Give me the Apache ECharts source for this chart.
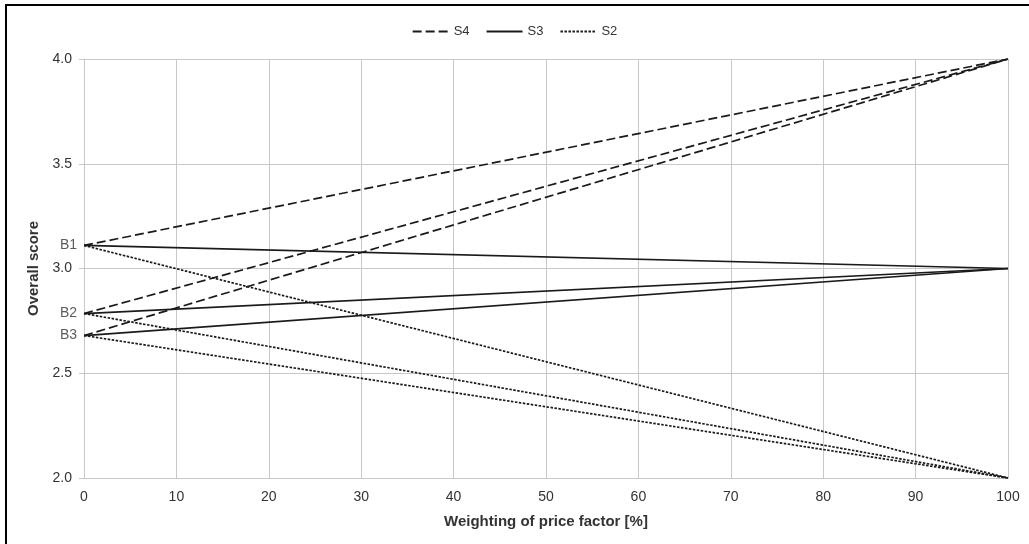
<!DOCTYPE html>
<html>
<head>
<meta charset="utf-8">
<script src="https://cdn.jsdelivr.net/npm/echarts@6/dist/echarts.min.js"></script>
<style>
html,body{margin:0;padding:0;background:#fff;}
#chart{width:1029px;height:544px;}
</style>
</head>
<body>
<div id="chart"></div>
<script>
// Data
const bidders = ['B1', 'B2', 'B3'];
const bidderScoresAtZero = [3.11, 2.785, 2.68];
const scenarios = ['S4', 'S3', 'S2'];
const scenarioScoresAtFull = [4.0, 3.0, 2.0];
const weightRange = [0, 100];
const xTicks = [0, 10, 20, 30, 40, 50, 60, 70, 80, 90, 100];
const yTicks = [2.0, 2.5, 3.0, 3.5, 4.0];

const lineTypes = {
  S4: [9, 4],
  S3: 'solid',
  S2: [2.5, 1.5]
};

const FONT = 'Liberation Sans, Arial, sans-serif';
const chart = echarts.init(document.getElementById('chart'));
const series = [];
scenarios.forEach((s, si) => {
  bidders.forEach((b, bi) => {
    series.push({
      name: s,
      type: 'line',
      symbol: 'none',
      silent: true,
      z: 3,
      lineStyle: { color: '#1a1a1a', width: 1.7, type: lineTypes[s] },
      itemStyle: { color: '#1a1a1a' },
      data: [
        [weightRange[0], bidderScoresAtZero[bi]],
        [weightRange[1], scenarioScoresAtFull[si]]
      ]
    });
  });
});
series.push({
  name: 'Bidders',
  type: 'scatter',
  symbol: 'circle',
  symbolSize: 2,
  clip: false,
  itemStyle: { color: 'rgba(0,0,0,0)' },
  silent: true,
  z: 4,
  label: {
    show: true, position: 'left', distance: 6,
    formatter: p => bidders[p.dataIndex],
    color: '#333', fontSize: 14, fontFamily: FONT
  },
  labelLayout: { hideOverlap: false },
  data: bidders.map((b, i) => [weightRange[0], bidderScoresAtZero[i]])
});

const option = {
  animation: false,
  backgroundColor: '#fff',
  textStyle: { fontFamily: FONT },
  grid: { left: 84, right: 21, top: 59, bottom: 66 },
  legend: {
    data: scenarios,
    top: 20,
    left: 'center',
    itemWidth: 36,
    itemHeight: 12,
    itemGap: 16,
    itemStyle: { opacity: 0 },
    textStyle: { color: '#333', fontSize: 13, fontFamily: FONT }
  },
  xAxis: {
    type: 'value',
    min: weightRange[0],
    max: weightRange[1],
    interval: 10,
    name: 'Weighting of price factor [%]',
    nameLocation: 'middle',
    nameGap: 36,
    nameTextStyle: { fontWeight: 'bold', fontSize: 15, color: '#333', fontFamily: FONT },
    axisLine: { lineStyle: { color: '#c8c8c8' } },
    axisTick: { show: false },
    axisLabel: { color: '#333', fontSize: 14, margin: 12, fontFamily: FONT,
      formatter: v => xTicks.includes(v) ? String(v) : '' },
    splitLine: { show: true, lineStyle: { color: '#c8c8c8', width: 1 } }
  },
  yAxis: {
    type: 'value',
    min: 2.0,
    max: 4.0,
    interval: 0.5,
    name: 'Overall score',
    nameLocation: 'middle',
    nameGap: 41,
    nameTextStyle: { fontWeight: 'bold', fontSize: 15, color: '#333', fontFamily: FONT },
    axisLine: { show: true, lineStyle: { color: '#c8c8c8' } },
    axisTick: { show: true, length: 5, lineStyle: { color: '#c8c8c8' } },
    axisLabel: { color: '#333', fontSize: 14, margin: 12, fontFamily: FONT,
      formatter: v => yTicks.some(t => Math.abs(t - v) < 1e-9) ? v.toFixed(1) : '' },
    splitLine: { show: true, lineStyle: { color: '#c8c8c8', width: 1 } }
  },
  graphic: [
    { type: 'line', shape: { x1: 5, y1: 5, x2: 1029, y2: 5 }, style: { stroke: '#000', lineWidth: 2 } },
    { type: 'line', shape: { x1: 6, y1: 4, x2: 6, y2: 544 }, style: { stroke: '#000', lineWidth: 2 } }
  ],
  series: series
};
chart.setOption(option);
</script>
</body>
</html>
